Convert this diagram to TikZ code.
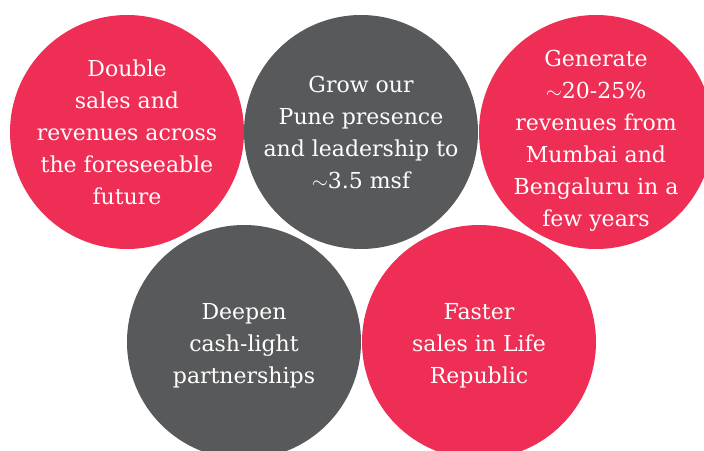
\documentclass[tikz,border=0pt]{standalone}
\usepackage{fontspec}
\setmainfont{DejaVu Serif}
\definecolor{goalred}{HTML}{EE2E55}
\definecolor{goalgrey}{HTML}{58595B}
\tikzset{
  goal/.style={circle, minimum size=234pt, inner sep=-40pt, text=white,
    align=center, font=\fontsize{22}{32}\selectfont},
  goaltext/.style={inner sep=0pt, text=white, align=center,
    font=\fontsize{22}{32}\selectfont},
}
\begin{document}
\begin{tikzpicture}[x=1pt,y=-1pt]
\useasboundingbox (0,0) rectangle (704,450);
\clip (0,0) rectangle (704,450);
% top row
\node[goal, fill=goalred] (double) at (127,132)
  {Double\\sales and\\revenues across\\the foreseeable\\future};
\node[goal, fill=goalgrey] (pune) at (361,132)
  {Grow our\\Pune presence\\and leadership to\\$\sim$3.5 msf};
\node[goal, fill=goalred] (mumbai) at (596,132) {};
\node[goaltext] (mumbaitext) at ([yshift=-9pt]mumbai.center)
  {Generate\\$\sim$20-25\%\\revenues from\\Mumbai and\\Bengaluru in a\\few years};
% bottom row
\node[goal, fill=goalgrey] (deepen) at (244,342) {};
\node[goaltext] (deepentext) at ([yshift=-4pt]deepen.center)
  {Deepen\\cash-light\\partnerships};
\node[goal, fill=goalred] (faster) at (479,342) {};
\node[goaltext] (fastertext) at ([yshift=-4pt]faster.center)
  {Faster\\sales in Life\\Republic};
\end{tikzpicture}
\end{document}
